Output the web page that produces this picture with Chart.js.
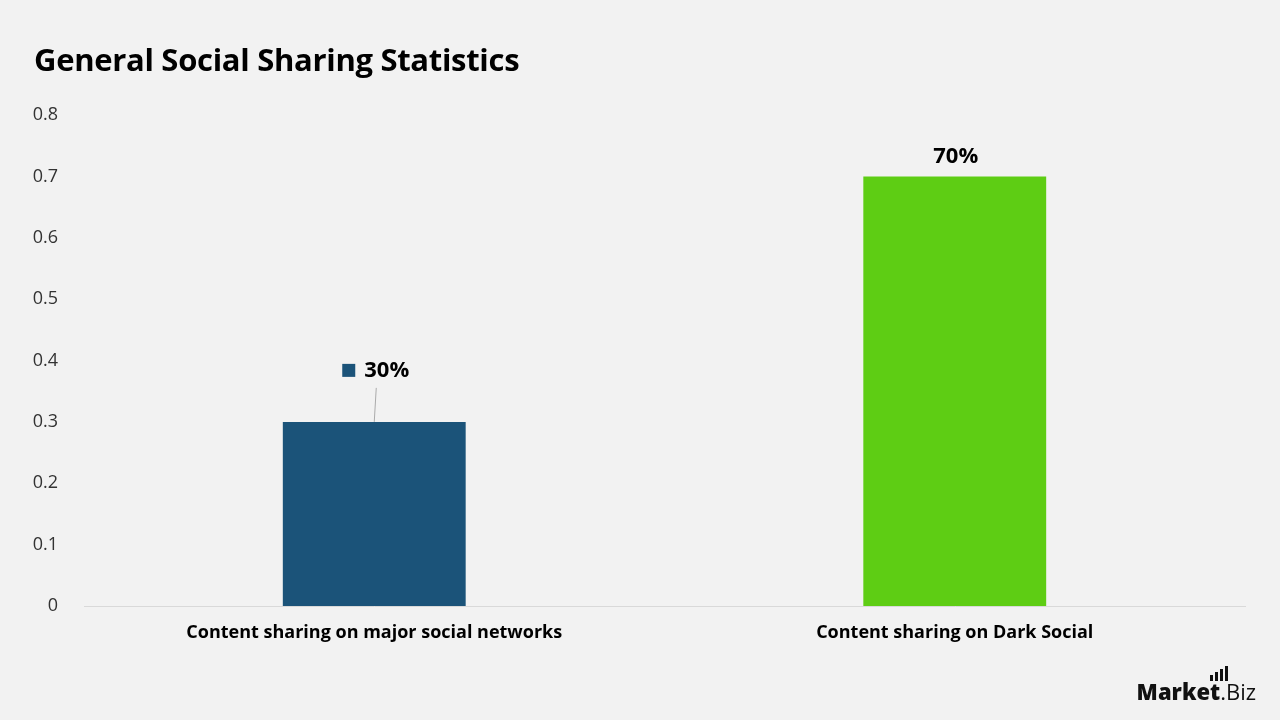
<!DOCTYPE html>
<html>
<head>
<meta charset="utf-8">
<script src="https://cdn.jsdelivr.net/npm/chart.js@4"></script>
<style>
  body { margin:0; background:#f2f2f2; font-family:"Open Sans", sans-serif; }
  #wrap { position:relative; width:1280px; height:720px; }
  #c { position:absolute; left:0; top:0; }
  h1 { position:absolute; left:34px; top:38px; margin:0; font:700 31px "Open Sans", sans-serif; color:#000; letter-spacing:-0.3px; }
  #logo { position:absolute; right:24px; bottom:14px; font:22px "Open Sans", sans-serif; color:#111; }
  #logo b { font-weight:800; }
  #icon { position:absolute; left:73px; top:-10px; display:flex; align-items:flex-end; gap:2px; }
  #icon span { width:3px; background:#111; display:block; }
</style>
</head>
<body>
<div id="wrap">
  <canvas id="c" width="1280" height="720"></canvas>
  <h1>General Social Sharing Statistics</h1>
  <div id="logo"><div id="icon"><span style="height:6px"></span><span style="height:9px"></span><span style="height:12px"></span><span style="height:15px"></span></div><b>Market</b>.Biz</div>
</div>
<script>
const categories = ["Content sharing on major social networks", "Content sharing on Dark Social"];
const values = [0.3, 0.7];
const valueLabels = ["30%", "70%"];
const colors = ["#1b5379", "#5ecd14"];

const labelPlugin = {
  id: "valueLabels",
  afterDatasetsDraw(chart) {
    const ctx = chart.ctx;
    const bars = chart.getDatasetMeta(0).data;
    ctx.save();
    ctx.font = "700 22px 'Open Sans', sans-serif";
    ctx.fillStyle = "#000";
    ctx.textBaseline = "middle";
    bars.forEach((bar, i) => {
      if (i === 0) {
        ctx.fillStyle = colors[0];
        ctx.fillRect(bar.x - 32, bar.y - 58, 13, 13);
        ctx.fillStyle = "#000";
        ctx.textAlign = "left";
        ctx.fillText(valueLabels[i], bar.x - 10, bar.y - 51);
        ctx.strokeStyle = "#aaa";
        ctx.lineWidth = 1;
        ctx.beginPath();
        ctx.moveTo(bar.x + 2, bar.y - 34);
        ctx.lineTo(bar.x, bar.y);
        ctx.stroke();
      } else {
        ctx.textAlign = "center";
        ctx.fillText(valueLabels[i], bar.x + 1, bar.y - 20);
      }
    });
    ctx.restore();
  }
};

new Chart(document.getElementById("c"), {
  type: "bar",
  data: {
    labels: categories,
    datasets: [{ data: values, backgroundColor: colors, barPercentage: 0.63, categoryPercentage: 0.5 }]
  },
  options: {
    responsive: false,
    animation: false,
    layout: { padding: { left: 30, right: 35, top: 115, bottom: 0 } },
    plugins: { legend: { display: false }, tooltip: { enabled: false } },
    scales: {
      y: {
        min: 0, max: 0.8,
        ticks: { stepSize: 0.1, padding: 18, color: "#333", font: { size: 18, family: "Open Sans" } },
        grid: { display: false },
        border: { display: false },
        afterFit: s => { s.width = 54; }
      },
      x: {
        ticks: { color: "#000", padding: 8, font: { size: 18, weight: "bold", family: "Open Sans" } },
        grid: { display: false },
        border: { color: "#d9d9d9" },
        afterFit: s => { s.height = 114; }
      }
    }
  },
  plugins: [labelPlugin]
});
</script>
</body>
</html>
